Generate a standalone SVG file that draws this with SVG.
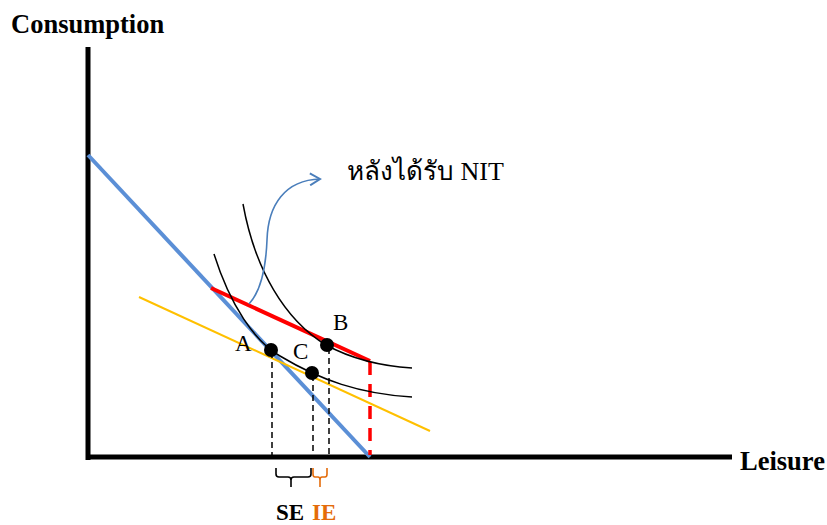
<svg xmlns="http://www.w3.org/2000/svg" width="827" height="525" viewBox="0 0 827 525">
<defs>
<style>
text{font-family:'Liberation Serif','Times New Roman',serif;fill:#000}
.b{font-weight:bold}
.curve{fill:none;stroke:#000;stroke-width:1.5}
.dash{stroke:#000;stroke-width:1.5;stroke-dasharray:6,4;fill:none}
.dot{fill:#000}
</style>
<marker id="chev" markerWidth="14" markerHeight="14" refX="12" refY="7" orient="auto" markerUnits="userSpaceOnUse">
<path d="M2,1 L12,7 L2,13" fill="none" stroke="#4a7ebb" stroke-width="2"/>
</marker>
</defs>
<rect width="827" height="525" fill="#fff"/>
<g id="axes">
<line x1="88" y1="47" x2="88" y2="460" stroke="#000" stroke-width="5"/>
<line x1="86" y1="457" x2="732" y2="457" stroke="#000" stroke-width="5"/>
<text class="b" x="11" y="33" font-size="26.5">Consumption</text>
<text class="b" x="740" y="470" font-size="26.5">Leisure</text>
</g>
<g id="connectors">
<line x1="88" y1="155" x2="370" y2="457" stroke="#5b8fd6" stroke-width="4"/>
<line x1="139" y1="297" x2="430" y2="431" stroke="#ffc000" stroke-width="2"/>
<line x1="211" y1="288" x2="370" y2="361" stroke="#ff0000" stroke-width="4"/>
<line x1="370" y1="362" x2="370" y2="455" stroke="#ff0000" stroke-width="3.5" stroke-dasharray="13,9"/>
<path class="curve" d="M214,254 C230,305 255,342 280,356 C320,380 360,394 412,397"/>
<path class="curve" d="M243,204 C255,270 285,320 326,345 C350,358 380,366 412,368"/>
<line class="dash" x1="272" y1="352" x2="272" y2="455"/>
<line class="dash" x1="313" y1="375" x2="313" y2="455"/>
<line class="dash" x1="329" y1="348" x2="329" y2="455"/>
<path d="M249,304 C262,290 266,265 267,240 C268,205 285,180 320,179" fill="none" stroke="#4a7ebb" stroke-width="1.6" marker-end="url(#chev)"/>
<path d="M276,468 L276,474 Q276,477 279,477 L288,477 Q291,477 291,480 L291,487 M291,480 Q291,477 294,477 L308,477 Q311,477 311,474 L311,468" fill="none" stroke="#000" stroke-width="1.6"/>
<path d="M313,468 L313,474 Q313,477 315,477 L318,477 Q320,477 320,480 L320,487 M320,480 Q320,477 322,477 L325,477 Q327,477 327,474 L327,468" fill="none" stroke="#e46c0a" stroke-width="1.6"/>
</g>
<g id="A"><circle class="dot" cx="271" cy="350" r="7"/><text x="235" y="351" font-size="23">A</text></g>
<g id="C"><circle class="dot" cx="312" cy="373" r="7"/><text x="293" y="359" font-size="23">C</text></g>
<g id="B"><circle class="dot" cx="327" cy="345" r="7"/><text x="333" y="330" font-size="23">B</text></g>
<g id="labels">
<text x="347" y="180" font-size="26">หลังได้รับ NIT</text>
<text class="b" x="276" y="520" font-size="23">SE</text>
<text class="b" x="312" y="520" font-size="23" style="fill:#e46c0a">IE</text>
</g>
</svg>
